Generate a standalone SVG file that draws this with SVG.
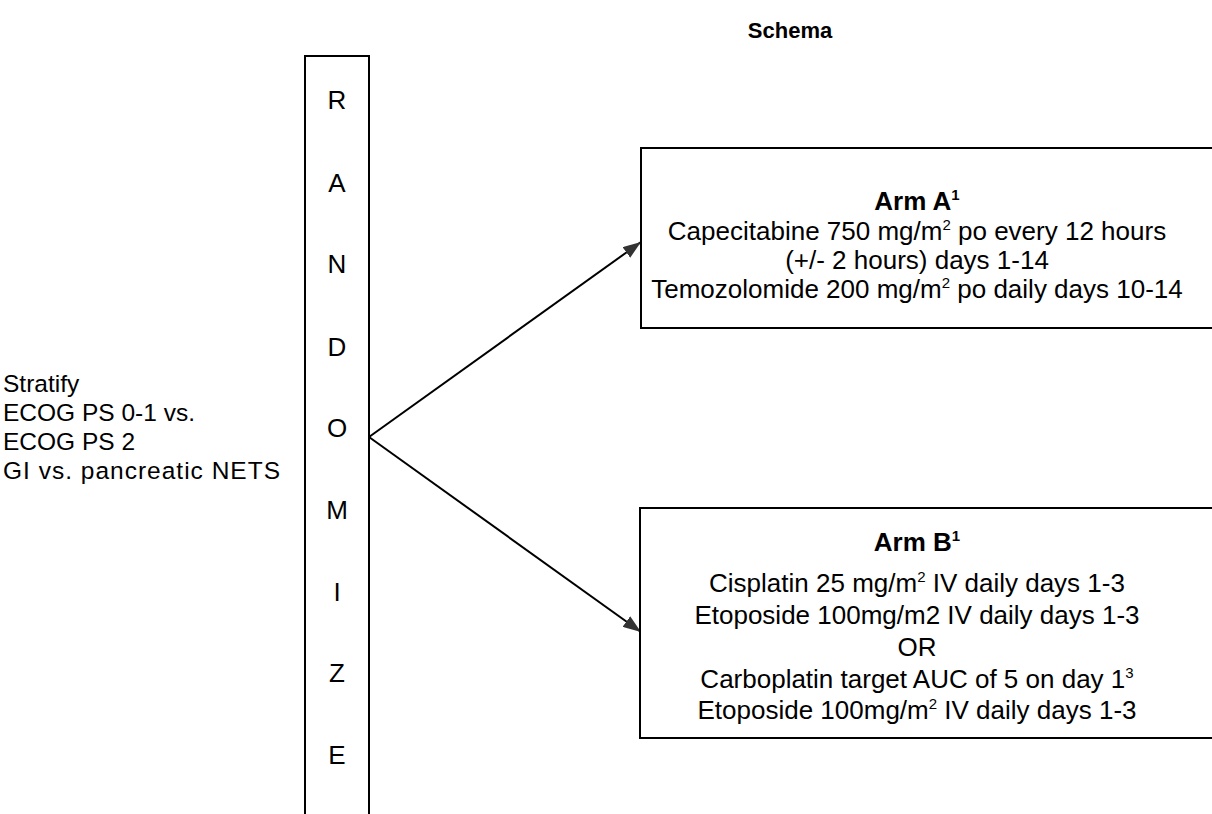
<svg xmlns="http://www.w3.org/2000/svg" width="1212" height="814" viewBox="0 0 1212 814">
<style>
text{font-family:"Liberation Sans",Arial,sans-serif;fill:#000}
.t{font-size:26px}
.s{font-size:24.5px}
.c{text-anchor:middle}
.b{font-weight:bold}
.h{font-size:22px;font-weight:bold;text-anchor:middle}
.L{font-size:26px;text-anchor:middle}
.box{fill:#fff;stroke:#000;stroke-width:2}
.con{stroke:#000;stroke-width:2;fill:none}
</style>
<defs>
<marker id="ah" viewBox="0 0 10 10" refX="10" refY="5" markerWidth="18" markerHeight="13" markerUnits="userSpaceOnUse" orient="auto" preserveAspectRatio="none">
<path d="M0,0 L10,5 L0,10 z" fill="#333"/>
</marker>
</defs>
<rect width="1212" height="814" fill="#fff"/>
<text class="h" x="790" y="38">Schema</text>
<g id="stratify">
<text class="s" x="3" y="392">Stratify</text>
<text class="s" x="3" y="421">ECOG PS 0-1 vs.</text>
<text class="s" x="3" y="450">ECOG PS 2</text>
<text class="s" x="3" y="479" textLength="277" lengthAdjust="spacing">GI vs. pancreatic NETS</text>
</g>
<g id="randomize">
<path class="con" d="M305,814 V56 H369 V814"/>
<text class="L" x="337" y="109">R</text>
<text class="L" x="337" y="192">A</text>
<text class="L" x="337" y="273">N</text>
<text class="L" x="337" y="356">D</text>
<text class="L" x="337" y="437">O</text>
<text class="L" x="337" y="519">M</text>
<text class="L" x="337" y="601">I</text>
<text class="L" x="337" y="682">Z</text>
<text class="L" x="337" y="764">E</text>
</g>
<g id="connectors">
<line class="con" x1="369" y1="437" x2="641" y2="242" marker-end="url(#ah)"/>
<line class="con" x1="369" y1="437" x2="641" y2="632" marker-end="url(#ah)"/>
</g>
<g id="armA">
<rect class="box" x="641" y="148" width="600" height="180"/>
<text class="t c b" x="917" y="210">Arm A<tspan dy="-10" font-size="15">1</tspan></text>
<text class="t c" x="917" y="240">Capecitabine 750 mg/m<tspan dy="-10" font-size="15">2</tspan><tspan dy="10"> po every 12 hours</tspan></text>
<text class="t c" x="917" y="269">(+/- 2 hours) days 1-14</text>
<text class="t c" x="917" y="298">Temozolomide 200 mg/m<tspan dy="-10" font-size="15">2</tspan><tspan dy="10"> po daily days 10-14</tspan></text>
</g>
<g id="armB">
<rect class="box" x="640" y="508" width="600" height="230"/>
<text class="t c b" x="917" y="551">Arm B<tspan dy="-10" font-size="15">1</tspan></text>
<text class="t c" x="917" y="592">Cisplatin 25 mg/m<tspan dy="-10" font-size="15">2</tspan><tspan dy="10"> IV daily days 1-3</tspan></text>
<text class="t c" x="917" y="624">Etoposide 100mg/m2 IV daily days 1-3</text>
<text class="t c" x="917" y="656">OR</text>
<text class="t c" x="917" y="688">Carboplatin target AUC of 5 on day 1<tspan dy="-10" font-size="15">3</tspan></text>
<text class="t c" x="917" y="719">Etoposide 100mg/m<tspan dy="-10" font-size="15">2</tspan><tspan dy="10"> IV daily days 1-3</tspan></text>
</g>
</svg>
